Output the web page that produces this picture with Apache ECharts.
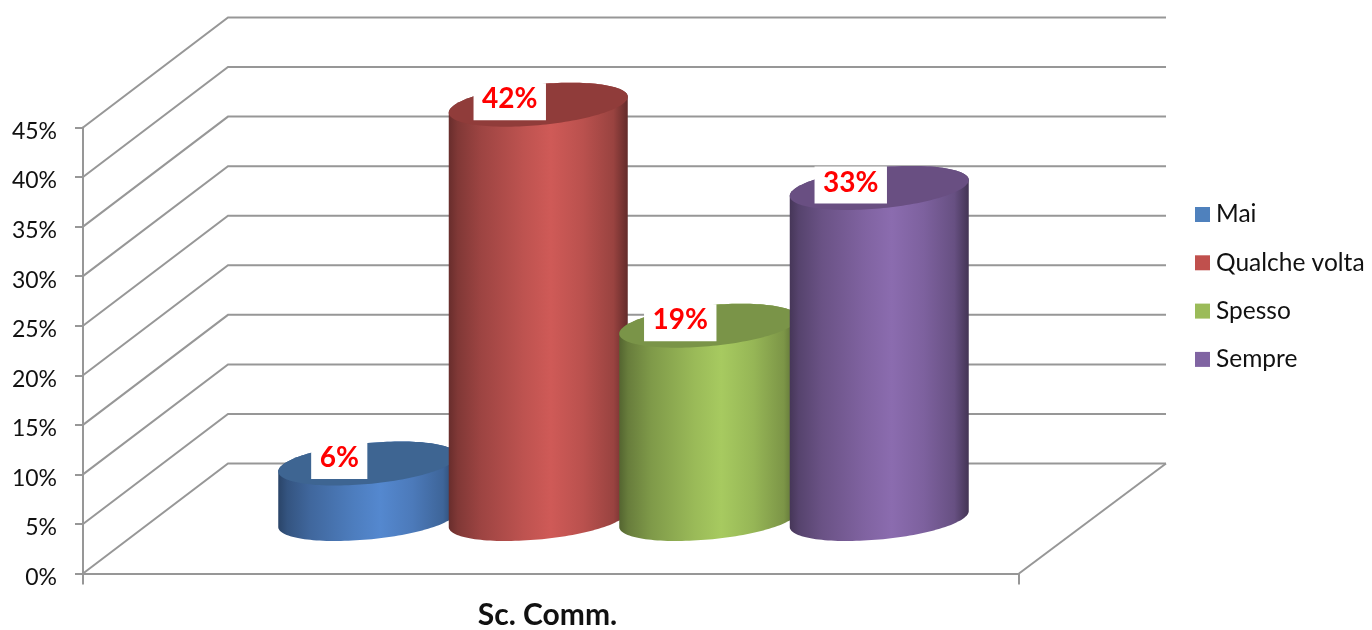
<!DOCTYPE html>
<html>
<head>
<meta charset="utf-8">
<style>html,body{margin:0;padding:0;background:#fff}#c{width:1372px;height:630px}</style>
<script src="https://cdn.jsdelivr.net/npm/echarts@6/dist/echarts.min.js"></script>
</head>
<body>
<div id="c"></div>
<script>
const categories = ['Sc. Comm.'];
const seriesNames = ['Mai', 'Qualche volta', 'Spesso', 'Sempre'];
const seriesValues = [5.6, 41.8, 19.5, 33.4];
const valueLabels = ['6%', '42%', '19%', '33%'];
const yTicks = [0, 5, 10, 15, 20, 25, 30, 35, 40, 45];

const legendColors = ['#4F81BD', '#C0504D', '#9BBB59', '#8064A2'];
const peakColors = ['#5488CF', '#CF5A57', '#A7CA60', '#8B6CAF'];
const topColors = ['#3E6592', '#903C3A', '#7A9448', '#694F82'];
const lineColor = '#979797';
const FONT = 'Lato';
const DEPTH_X = 146, DEPTH_Y = 110, BAR_SHIFT_Y = 54.5;
const SPACING = 170.5, RX = 89.5, RY = 20.5, SHEAR = 8;

function shade(hex, f) {
  const n = parseInt(hex.slice(1), 16);
  const c = [n >> 16, (n >> 8) & 255, n & 255].map(v => Math.round(v * f));
  return 'rgb(' + c.join(',') + ')';
}
function ell(cx, cy, t) {
  return [cx + RX * Math.cos(t), cy - RY * Math.sin(t) - SHEAR * Math.cos(t)];
}
function cylinderItem(i) {
  return function (params, api) {
    const base = api.coord([0, 0]);
    const top = api.coord([0, api.value(1)]);
    const cx = base[0] + DEPTH_X / 2 + (i - 1.5) * SPACING - 0.5;
    const by = base[1] - BAR_SHIFT_Y;
    const ty = top[1] - BAR_SHIFT_Y;
    const N = 72;
    const bodyPts = [], topPts = [];
    for (let k = 0; k <= N; k++) {
      const t = Math.PI + (k / N) * Math.PI;
      bodyPts.push(ell(cx, by, t));
    }
    for (let k = 0; k <= N; k++) {
      const t = (k / N) * Math.PI;
      bodyPts.push(ell(cx, ty, t));
    }
    for (let k = 0; k < 2 * N; k++) {
      topPts.push(ell(cx, ty, (k / N) * Math.PI));
    }
    const p = peakColors[i];
    return {
      type: 'group',
      children: [
        {
          type: 'polygon',
          shape: { points: bodyPts },
          style: {
            fill: new echarts.graphic.LinearGradient(0, 0, 1, 0, [
              { offset: 0, color: shade(p, 0.50) },
              { offset: 0.05, color: shade(p, 0.62) },
              { offset: 0.18, color: shade(p, 0.76) },
              { offset: 0.42, color: shade(p, 0.92) },
              { offset: 0.57, color: shade(p, 1) },
              { offset: 0.75, color: shade(p, 0.90) },
              { offset: 0.92, color: shade(p, 0.74) },
              { offset: 1, color: shade(p, 0.48) }
            ])
          }
        },
        {
          type: 'polygon',
          shape: { points: topPts },
          style: { fill: topColors[i] }
        },
        {
          type: 'text',
          z2: 100,
          style: {
            x: cx - 28.5,
            y: ty - 21.5,
            text: valueLabels[i],
            fill: '#FF0000',
            font: 'bold 28px ' + FONT,
            lineHeight: 24,
            align: 'center',
            verticalAlign: 'top',
            backgroundColor: '#FFFFFF',
            padding: [4, 8.5, 9, 8.5]
          }
        }
      ]
    };
  };
}
function wallItem(params, api) {
  const p = api.coord([0, api.value(0)]);
  const cs = params.coordSys;
  const x1 = cs.x + DEPTH_X - 1;
  const y1 = p[1] - DEPTH_Y;
  const x2 = cs.x + cs.width + DEPTH_X + 1;
  const lines = [{
    type: 'polyline',
    shape: { points: [[cs.x, p[1]], [x1, y1], [x2, y1]] },
    style: { stroke: lineColor, lineWidth: 2, fill: null }
  }];
  if (api.value(0) === 0) {
    lines.push({
      type: 'line',
      shape: { x1: cs.x + cs.width, y1: p[1], x2: x2, y2: y1 },
      style: { stroke: lineColor, lineWidth: 2 }
    });
  }
  return { type: 'group', children: lines };
}

const series = [{
  name: 'wall',
  type: 'custom',
  z: 1,
  silent: true,
  coordinateSystem: 'cartesian2d',
  encode: { y: 0 },
  data: yTicks.map(v => [v]),
  renderItem: wallItem
}];
seriesNames.forEach((name, i) => {
  series.push({
    name: name,
    type: 'custom',
    z: 3 + i,
    coordinateSystem: 'cartesian2d',
    itemStyle: { color: legendColors[i] },
    encode: { x: 0, y: 1 },
    data: [[0, seriesValues[i]]],
    renderItem: cylinderItem(i)
  });
});

const chart = echarts.init(document.getElementById('c'), null, { renderer: 'canvas' });
chart.setOption({
  animation: false,
  backgroundColor: '#fff',
  grid: { left: 83, right: 353, top: 127.5, bottom: 56.5, containLabel: false, outerBoundsMode: 'none' },
  legend: {
    data: seriesNames,
    orient: 'vertical',
    left: 1195,
    top: 202,
    padding: 0,
    itemWidth: 15,
    itemHeight: 15,
    itemGap: 23.3,
    icon: 'rect',
    selectedMode: false,
    textStyle: { fontFamily: FONT, fontSize: 24.5, color: '#111', padding: [0, 0, 0, 1] }
  },
  xAxis: {
    type: 'category',
    data: categories,
    axisLine: { lineStyle: { color: lineColor, width: 2 } },
    axisTick: { show: true, length: 11, lineStyle: { color: lineColor, width: 2 } },
    axisLabel: { fontFamily: FONT, fontSize: 30, fontWeight: 'bold', color: '#111', margin: 27, padding: [0, 7, 0, 0] }
  },
  yAxis: {
    type: 'value',
    min: 0,
    max: 45,
    interval: 5,
    splitLine: { show: false },
    axisLine: { show: true, lineStyle: { color: lineColor, width: 2 } },
    axisTick: { show: true, length: 8, lineStyle: { color: lineColor, width: 2 } },
    axisLabel: { formatter: '{value}%', fontFamily: FONT, fontSize: 23, color: '#111', margin: 26, verticalAlign: 'top', lineHeight: 8 }
  },
  series: series
});
</script>
</body>
</html>
